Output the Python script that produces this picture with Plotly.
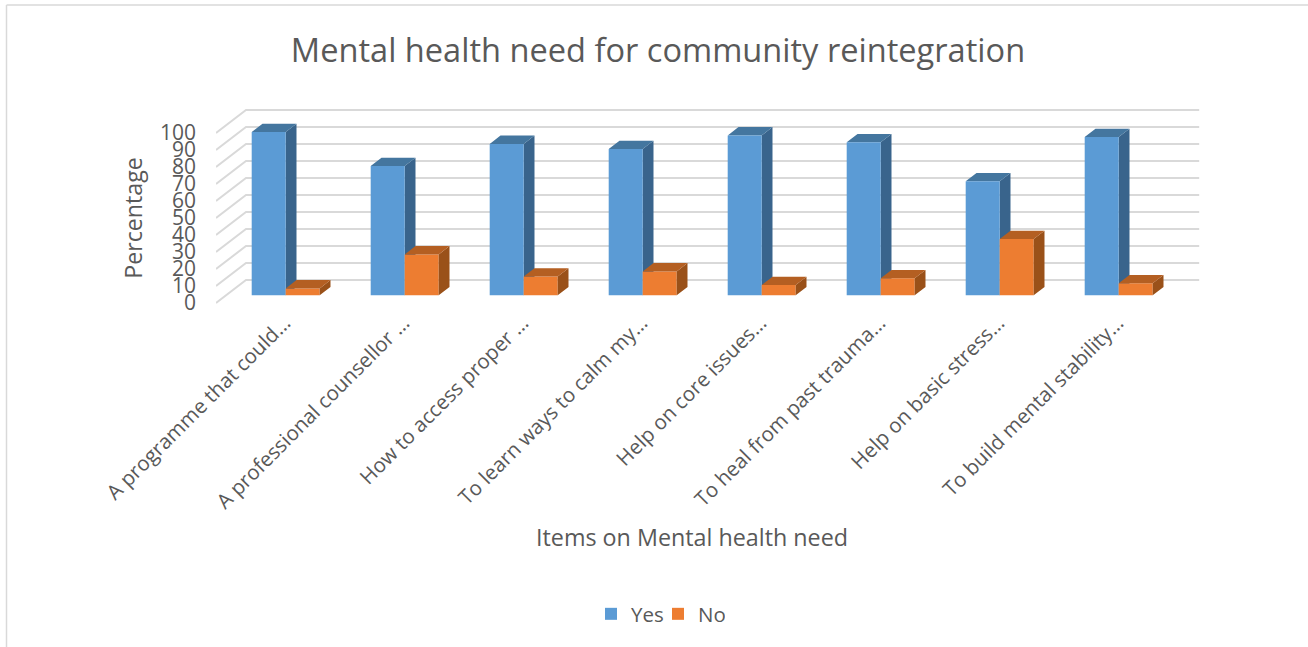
import plotly.graph_objects as go

# Survey responses per item, in percent
categories = [
    "A programme that could…",
    "A professional counsellor …",
    "How to access proper …",
    "To learn ways to calm my…",
    "Help on core issues…",
    "To heal from past trauma…",
    "Help on basic stress…",
    "To build mental stability…",
]
yes_values = [96, 76, 89, 86, 94, 90, 67, 93]
no_values = [4, 24, 11, 14, 6, 10, 33, 7]
y_ticks = list(range(0, 101, 10))

FONT = "Open Sans"
TEXT = "#595959"
GRID = "#D9D9D9"
W, H = 1308, 647

# Front plane of the chart box, in page pixels
LEFT, RIGHT, TOP, BOTTOM = 216, 1168, 133, 303
PX_PER_CAT = (RIGHT - LEFT) / len(categories)
PX_PER_PCT = (BOTTOM - TOP) / 100

# Oblique projection: full floor depth expressed in axis units
DEPTH_X = 30 / PX_PER_CAT
DEPTH_Y = 23 / PX_PER_PCT
# Bars occupy this slice of the floor depth, and this width per series
NEAR, FAR = 0.34, 0.70
BAR_W = 34 / PX_PER_CAT

# Extended range of the hidden drawing axes, so the receding box fits inside them
X_RANGE = [-0.5, len(categories) - 0.5 + DEPTH_X + 0.02]
Y_RANGE = [-2, 102 + DEPTH_Y]


def dom_x(px):
    return px / W


def dom_y(px):
    return 1 - px / H


X_DOMAIN = [dom_x(LEFT), dom_x(LEFT + PX_PER_CAT * (X_RANGE[1] - X_RANGE[0]))]
Y_DOMAIN = [dom_y(BOTTOM - PX_PER_PCT * Y_RANGE[0]), dom_y(BOTTOM - PX_PER_PCT * Y_RANGE[1])]


def grid_lines():
    xs, ys = [], []
    right = len(categories) - 0.5
    for v in y_ticks:
        xs += [-0.5, -0.5 + DEPTH_X, right + DEPTH_X + 0.01, None]
        ys += [v, v + DEPTH_Y, v + DEPTH_Y, None]
    return go.Scatter(x=xs, y=ys, mode="lines", line=dict(color=GRID, width=2),
                      hoverinfo="skip", showlegend=False, xaxis="x2", yaxis="y2")


def bar_faces(values, slot, top_color, side_color, axes):
    """Top and right faces of one series, projected from its values."""
    xt, yt, xs, ys = [], [], [], []
    dx = (FAR - NEAR) * DEPTH_X
    dy = (FAR - NEAR) * DEPTH_Y
    for i, v in enumerate(values):
        x0 = i + slot * BAR_W + NEAR * DEPTH_X
        x1 = x0 + BAR_W
        y0 = NEAR * DEPTH_Y
        y1 = y0 + v
        xt += [x0, x1, x1 + dx, x0 + dx, x0, None]
        yt += [y1, y1, y1 + dy, y1 + dy, y1, None]
        xs += [x1, x1 + dx, x1 + dx, x1, x1, None]
        ys += [y0, y0 + dy, y1 + dy, y1, y0, None]
    common = dict(mode="lines", fill="toself", line=dict(width=0), hoverinfo="skip",
                  showlegend=False, **axes)
    return [go.Scatter(x=xs, y=ys, fillcolor=side_color, **common),
            go.Scatter(x=xt, y=yt, fillcolor=top_color, **common)]


def front_bars(values, slot, name, color, axes):
    return go.Bar(x=list(range(len(values))), y=values, base=NEAR * DEPTH_Y,
                  offset=slot * BAR_W + NEAR * DEPTH_X, width=BAR_W, name=name,
                  marker=dict(color=color, line=dict(width=0)), **axes)


BACK_AXES = dict(xaxis="x2", yaxis="y2")
FRONT_AXES = dict(xaxis="x3", yaxis="y3")

fig = go.Figure()
# The labelled front axes need a trace of their own to be drawn
fig.add_trace(go.Scatter(x=list(range(len(categories))), y=yes_values, mode="none",
                         hoverinfo="skip", showlegend=False))
# Lower layer: wall lines and the blue side and top faces
fig.add_trace(grid_lines())
fig.add_traces(bar_faces(yes_values, -1, "#44769F", "#39648C", BACK_AXES))
# Upper layer: front faces, then the orange faces that cover the blue sides
fig.add_trace(front_bars(yes_values, -1, "Yes", "#5B9BD5", FRONT_AXES))
fig.add_trace(front_bars(no_values, 0, "No", "#ED7D31", FRONT_AXES))
fig.add_traces(bar_faces(no_values, 0, "#B45F22", "#9A5119", FRONT_AXES))

hidden_x = dict(domain=X_DOMAIN, range=X_RANGE, visible=False)
hidden_y = dict(domain=Y_DOMAIN, range=Y_RANGE, visible=False)

fig.update_layout(
    width=W, height=H,
    margin=dict(l=0, r=0, t=0, b=0, autoexpand=False),
    paper_bgcolor="white", plot_bgcolor="rgba(0,0,0,0)",
    barmode="overlay",
    font=dict(family=FONT, color=TEXT),
    title=dict(text="Mental health need for community reintegration",
               font=dict(family=FONT, size=32.6, color=TEXT),
               x=658 / W, xref="container", xanchor="center",
               y=1 - 50.5 / H, yref="container", yanchor="middle"),
    xaxis=dict(domain=[dom_x(LEFT), dom_x(RIGHT)], range=[-0.5, 7.5], anchor="y",
               tickvals=list(range(len(categories))), ticktext=categories,
               tickangle=-45, tickfont=dict(size=20.5, color=TEXT), showgrid=False, zeroline=False,
               showline=False, ticks="", ticklabelstandoff=3, ticklabelshift=9,
               title=dict(text="Items on Mental health need", font=dict(size=23.3, color=TEXT), standoff=16)),
    yaxis=dict(domain=[dom_y(BOTTOM), dom_y(TOP)], range=[0, 100], anchor="x",
               tickvals=y_ticks, tickfont=dict(size=21, color=TEXT), showgrid=False,
               zeroline=False, showline=False, ticks="", ticklabelstandoff=19,
               title=dict(text="Percentage", font=dict(size=23.2, color=TEXT), standoff=10)),
    xaxis2=dict(anchor="y2", **hidden_x),
    yaxis2=dict(anchor="x2", **hidden_y),
    xaxis3=dict(anchor="y3", **hidden_x),
    yaxis3=dict(anchor="x3", **hidden_y),
    legend=dict(orientation="h", x=dom_x(658), xanchor="center", y=dom_y(614), yanchor="middle",
                font=dict(size=20.5, color=TEXT), traceorder="normal",
                entrywidth=22, entrywidthmode="pixels"),
    shapes=[
        dict(type="line", xref="paper", yref="paper", x0=dom_x(6.5), x1=dom_x(6.5),
             y0=dom_y(5), y1=0, line=dict(color=GRID, width=1.5)),
        dict(type="line", xref="paper", yref="paper", x0=dom_x(6.5), x1=1,
             y0=dom_y(5), y1=dom_y(5), line=dict(color=GRID, width=1.5)),
    ],
)

fig.write_html("out.html")
